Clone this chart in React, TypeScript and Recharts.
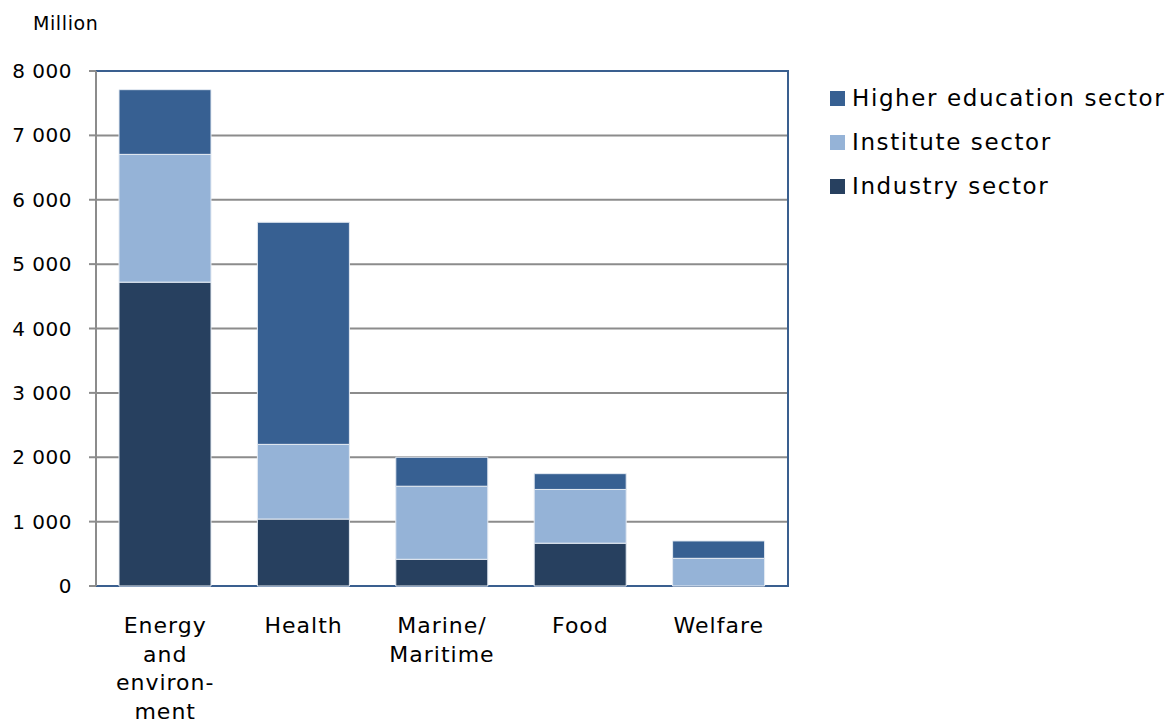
import * as React from "react";
import {
  BarChart,
  Bar,
  XAxis,
  YAxis,
  CartesianGrid,
  ReferenceArea,
} from "recharts";

// categories and stacked values (million)
const categories = ["Energy and environment", "Health", "Marine/ Maritime", "Food", "Welfare"];
const categoryLines = [["Energy", "and", "environ-", "ment"], ["Health"], ["Marine/", "Maritime"], ["Food"], ["Welfare"]];
const industry = [4720, 1040, 415, 665, 0];
const institute = [1985, 1160, 1135, 835, 430];
const higherEducation = [1005, 3450, 450, 245, 270];
const yTicks = [0, 1000, 2000, 3000, 4000, 5000, 6000, 7000, 8000];

const series = [
  { key: "industry", name: "Industry sector", color: "#27405F" },
  { key: "institute", name: "Institute sector", color: "#95B3D7" },
  { key: "higher", name: "Higher education sector", color: "#376092" },
];

const data = categories.map((c, i) => ({
  category: c,
  industry: industry[i],
  institute: institute[i],
  higher: higherEducation[i],
}));

const FONT = "'DejaVu Sans', Verdana, sans-serif";

const fmt = (v: number) => (v === 0 ? "0" : `${Math.floor(v / 1000)} ${String(v % 1000).padStart(3, "0")}`);

// eslint-disable-next-line @typescript-eslint/no-explicit-any
function CategoryTick({ x, y, index }: any) {
  const lines = categoryLines[index] || [];
  return (
    <text x={x} y={y} textAnchor="middle" fill="#000" fontSize={22} fontFamily={FONT} letterSpacing={1}>
      {lines.map((l, i) => (
        <tspan key={i} x={x} dy={i === 0 ? 47 : 28.5}>
          {l}
        </tspan>
      ))}
    </text>
  );
}

function LegendBox() {
  // legend lists the top of the stack first
  const items = [...series].reverse();
  return (
    <div style={{ position: "absolute", left: 830, top: 76, fontFamily: FONT }}>
      {items.map((s) => (
        <div key={s.key} style={{ display: "flex", alignItems: "center", height: 44 }}>
          <div style={{ width: 15, height: 15, backgroundColor: s.color, marginRight: 7 }} />
          <span style={{ fontSize: 23, letterSpacing: 1.6, color: "#000", whiteSpace: "nowrap" }}>{s.name}</span>
        </div>
      ))}
    </div>
  );
}

export default function App() {
  return (
    <div style={{ position: "absolute", left: 0, top: 0, width: 1171, height: 722, background: "#fff", overflow: "hidden" }}>
      <div
        style={{
          position: "absolute",
          left: 33,
          top: 12,
          fontFamily: FONT,
          fontSize: 19,
          letterSpacing: 0.6,
          color: "#000",
        }}
      >
        Million
      </div>
      <BarChart
        width={1171}
        height={722}
        data={data}
        margin={{ top: 71, right: 383, left: 0, bottom: 106 }}
        barSize={92}
      >
        <CartesianGrid horizontal vertical={false} stroke="#8C8C8C" strokeWidth={2} />
        <XAxis
          dataKey="category"
          height={30}
          axisLine={false}
          tickLine={false}
          tickSize={0}
          tickMargin={0}
          interval={0}
          tick={<CategoryTick />}
        />
        <YAxis
          width={96}
          domain={[0, 8000]}
          ticks={yTicks}
          interval={0}
          tickFormatter={fmt}
          axisLine={{ stroke: "#8C8C8C", strokeWidth: 2 }}
          tickLine={{ stroke: "#8C8C8C", strokeWidth: 2 }}
          tickSize={7}
          tickMargin={17}
          tick={{ fill: "#000", fontSize: 20, fontFamily: FONT, letterSpacing: 0.5 }}
        />
        {series.map((s) => (
          <Bar
            key={s.key}
            dataKey={s.key}
            name={s.name}
            stackId="a"
            fill={s.color}
            stroke="#E4EAF2"
            strokeWidth={1}
            isAnimationActive={false}
          />
        ))}
        <ReferenceArea y1={0} y2={8000} fill="none" stroke="#3A5F8F" strokeWidth={2} ifOverflow="visible" />
      </BarChart>
      <LegendBox />
    </div>
  );
}
